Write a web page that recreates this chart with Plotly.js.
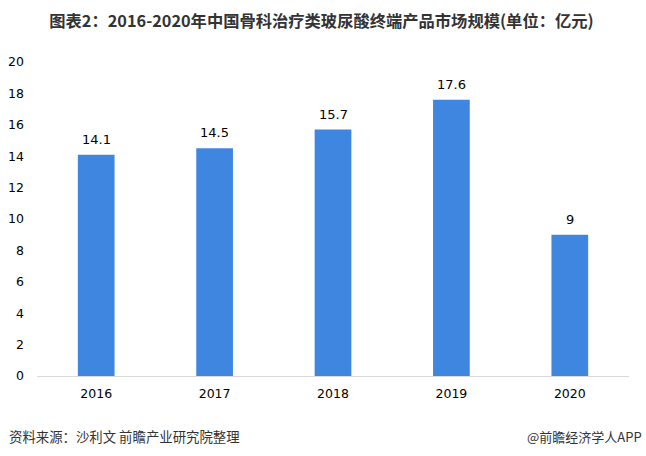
<!DOCTYPE html>
<html>
<head>
<meta charset="utf-8">
<script src="https://cdn.plot.ly/plotly-3.0.1.min.js"></script>
<style>
html,body{margin:0;padding:0;background:#fff;}
#chart{width:646px;height:456px;}
</style>
</head>
<body>
<div id="chart"></div>
<script>
const years = ["2016", "2017", "2018", "2019", "2020"];
const marketSize = [14.1, 14.5, 15.7, 17.6, 9];
const valueLabels = ["14.1", "14.5", "15.7", "17.6", "9"];
const yTicks = [0, 2, 4, 6, 8, 10, 12, 14, 16, 18, 20];

const trace = {
  type: "bar",
  x: years,
  y: marketSize,
  marker: {color: "#3f86e0"},
  hoverinfo: "x+y"
};

// category index positions on the category axis
const labelAnnotations = years.map((yr, i) => ({
  x: i, y: marketSize[i], xref: "x", yref: "y",
  text: valueLabels[i], showarrow: false,
  xanchor: "center", yanchor: "bottom", yshift: 6,
  font: {family: "DejaVu Sans, sans-serif", size: 13, color: "#000"}
}));

const layout = {
  width: 646,
  height: 456,
  margin: {l: 37, r: 17, t: 62, b: 80},
  paper_bgcolor: "#fff",
  plot_bgcolor: "#fff",
  bargap: 0.69,
  showlegend: false,
  font: {family: "DejaVu Sans, sans-serif", size: 12.5, color: "#000"},
  title: {
    text: "<b>图表2：2016-2020年中国骨科治疗类玻尿酸终端产品市场规模(单位：亿元)</b>",
    font: {family: "Noto Sans CJK SC, sans-serif", size: 16.3, color: "#333"},
    x: 321.5/646, xref: "container", xanchor: "center",
    y: 1 - 21/456, yref: "container", yanchor: "middle"
  },
  xaxis: {
    type: "category",
    showgrid: false,
    showline: true,
    linecolor: "#d9d9d9",
    linewidth: 1,
    ticks: "",
    ticklabelstandoff: 6,
    tickfont: {family: "DejaVu Sans, sans-serif", size: 12.5, color: "#000"},
    zeroline: false
  },
  yaxis: {
    range: [0, 20],
    tickvals: yTicks,
    showgrid: false,
    showline: false,
    zeroline: false,
    ticks: "",
    ticklabelstandoff: 12,
    tickfont: {family: "DejaVu Sans, sans-serif", size: 12.5, color: "#000"}
  },
  annotations: labelAnnotations.concat([
    {
      text: "资料来源：沙利文 前瞻产业研究院整理",
      xref: "paper", yref: "paper", x: -30/592, y: -(436-376)/314,
      xanchor: "left", yanchor: "middle", showarrow: false,
      font: {family: "Noto Sans CJK SC, sans-serif", size: 13.4, color: "#333"}
    },
    {
      text: "@前瞻经济学人APP",
      xref: "paper", yref: "paper", x: (644-37)/592, y: -(436-376)/314,
      xanchor: "right", yanchor: "middle", showarrow: false,
      font: {family: "Noto Sans CJK SC, sans-serif", size: 13, color: "#333"}
    }
  ])
};

Plotly.newPlot("chart", [trace], layout, {displayModeBar: false, staticPlot: true});
</script>
</body>
</html>
